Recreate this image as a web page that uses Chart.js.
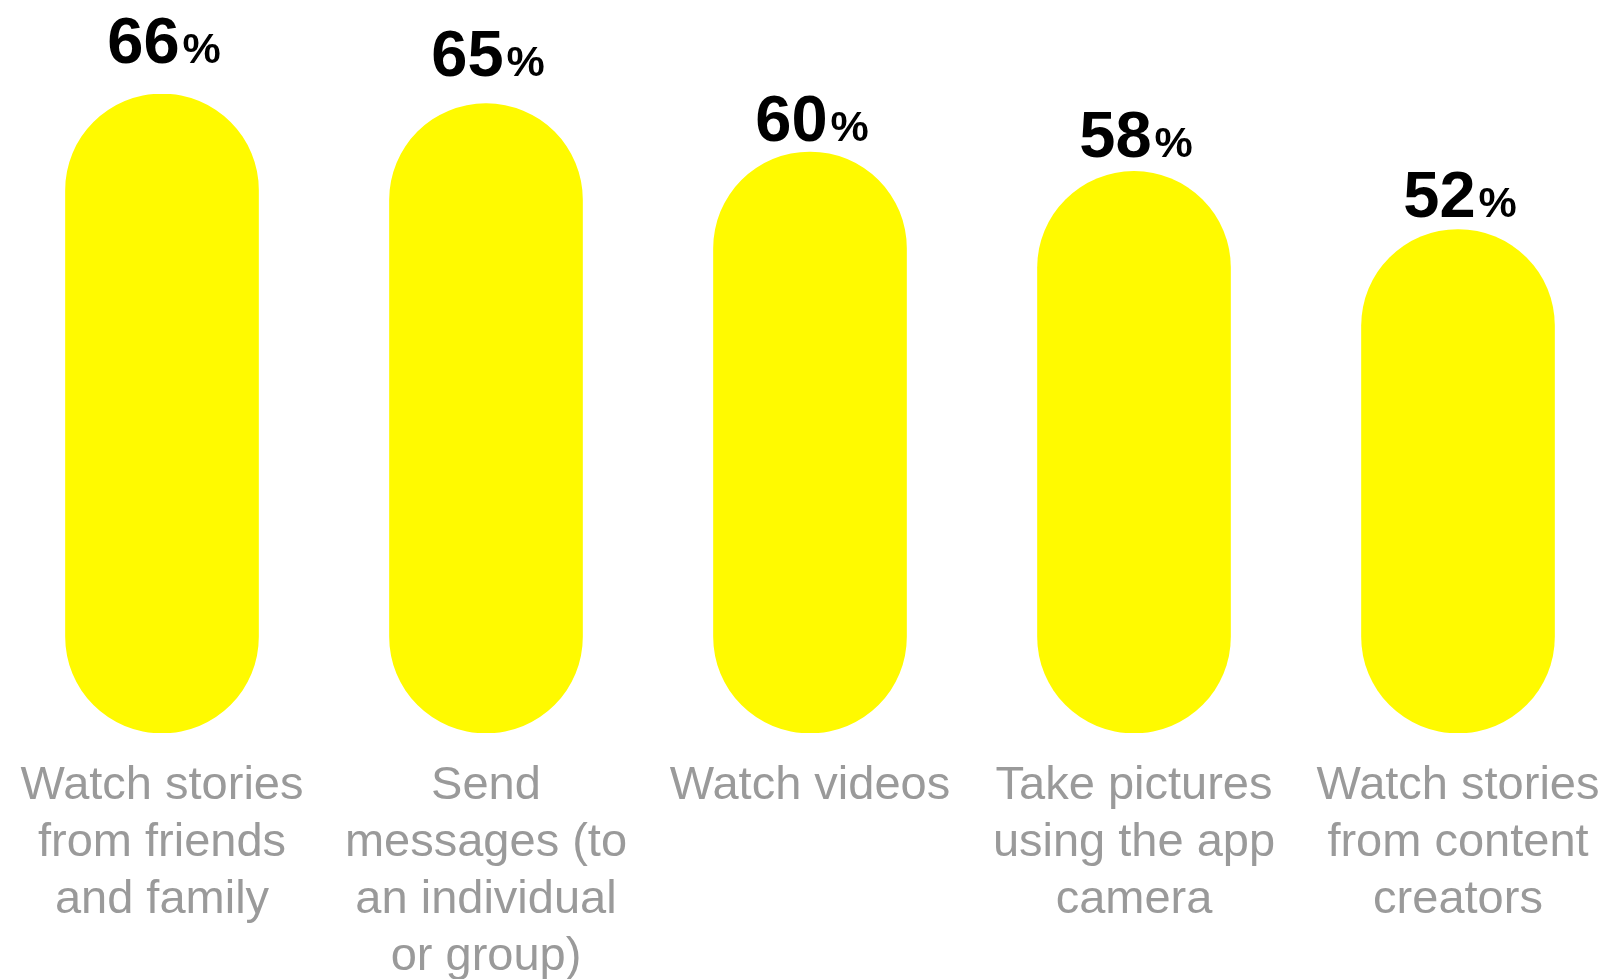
<!DOCTYPE html>
<html>
<head>
<meta charset="utf-8">
<script src="https://cdn.jsdelivr.net/npm/chart.js@4"></script>
<style>
  html, body { margin: 0; padding: 0; background: #fff; overflow: hidden; }
  #wrap { width: 1620px; height: 979px; }
</style>
</head>
<body>
<div id="wrap"><canvas id="chart" width="1620" height="979"></canvas></div>
<script>
const categories = [
  ["Watch stories", "from friends", "and family"],
  ["Send", "messages (to", "an individual", "or group)"],
  ["Watch videos"],
  ["Take pictures", "using the app", "camera"],
  ["Watch stories", "from content", "creators"],
];
const shares = [66, 65, 60, 58, 52];

// distance from bar top to label baseline, per bar
const labelGaps = [31, 28, 11, 14, 13];

const valueLabels = {
  id: "valueLabels",
  afterDatasetsDraw(chart) {
    const ctx = chart.ctx;
    const meta = chart.getDatasetMeta(0);
    const numFont = "bold 65px 'Liberation Sans', Arial, sans-serif";
    const pctFont = "bold 43px 'Liberation Sans', Arial, sans-serif";
    ctx.save();
    ctx.fillStyle = "#000";
    ctx.textBaseline = "alphabetic";
    ctx.textAlign = "left";
    meta.data.forEach((bar, i) => {
      const num = String(shares[i]);
      ctx.font = numFont;
      const wNum = ctx.measureText(num).width;
      ctx.font = pctFont;
      const wPct = ctx.measureText("%").width;
      const gap = 3;
      const x0 = bar.x - (wNum + gap + wPct) / 2 + 2;
      const y = bar.y - labelGaps[i];
      ctx.font = numFont;
      ctx.fillText(num, x0, y);
      ctx.font = pctFont;
      ctx.fillText("%", x0 + wNum + gap, y);
    });
    ctx.restore();
  },
};

const ctx = document.getElementById("chart").getContext("2d");
new Chart(ctx, {
  type: "bar",
  data: {
    labels: categories,
    datasets: [
      {
        data: shares,
        backgroundColor: "#fffa00",
        borderWidth: 0,
        borderRadius: 97,
        borderSkipped: false,
        barThickness: 193,
      },
    ],
  },
  options: {
    responsive: false,
    animation: false,
    layout: { padding: { top: 94, left: 0, right: 0, bottom: 0 } },
    plugins: {
      legend: { display: false },
      tooltip: { enabled: false },
    },
    scales: {
      x: {
        grid: { display: false, drawTicks: false },
        border: { display: false },
        ticks: {
          color: "#9a9a9a",
          padding: 25,
          maxRotation: 0,
          autoSkip: false,
          font: { family: "'Liberation Sans', Arial, sans-serif", size: 47, lineHeight: "57px" },
        },
        afterFit(scale) {
          scale.height = 246;
          scale.paddingLeft = 0;
          scale.paddingRight = 0;
        },
      },
      y: {
        display: false,
        min: 0,
        max: 66,
      },
    },
  },
  plugins: [valueLabels],
});
</script>
</body>
</html>
